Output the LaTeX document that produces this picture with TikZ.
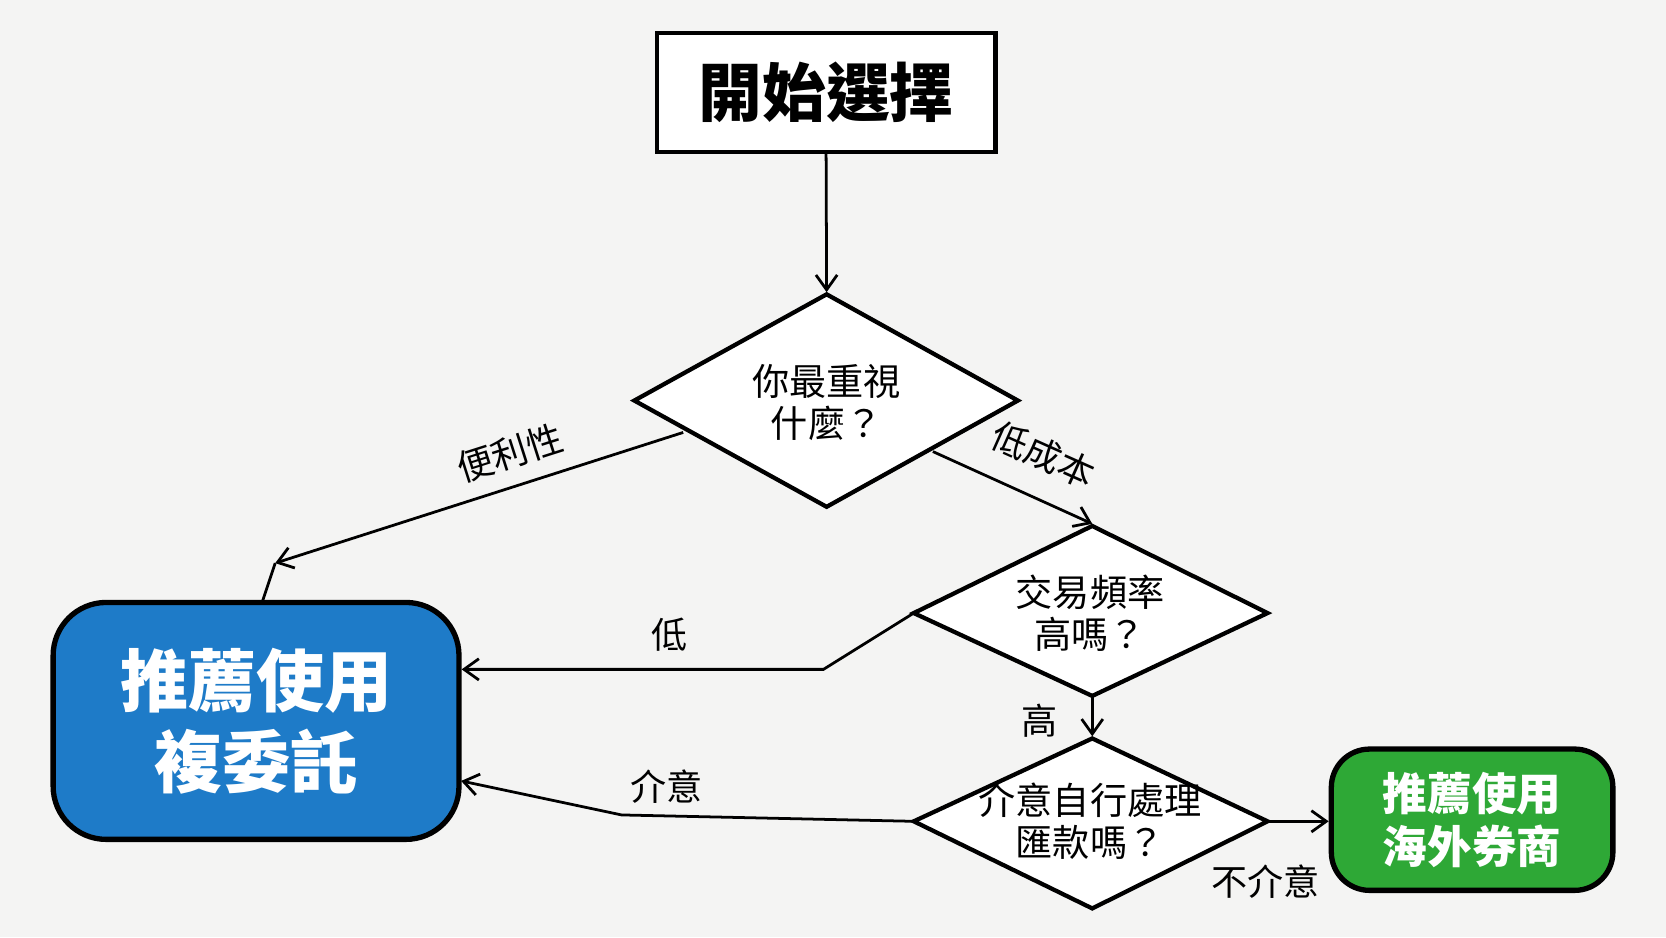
\documentclass[tikz,border=0pt]{standalone}
\usepackage{fontspec}
\setmainfont{Noto Sans CJK TC}
\usetikzlibrary{arrows.meta}
\definecolor{bg}{HTML}{F4F4F3}
\definecolor{bluebox}{HTML}{1E7BC8}
\definecolor{greenbox}{HTML}{2EA836}
\begin{document}
\begin{tikzpicture}[x=0.5pt,y=-0.5pt,
  edge/.style={line width=1.3pt,-{Straight Barb[length=7pt,width=10pt]}},
  plain/.style={line width=1.3pt},
  shp/.style={draw,line width=2pt},
  lbl/.style={font=\fontsize{17}{19}\selectfont},
  dtext/.style={font=\fontsize{17.5}{20}\selectfont,align=center}]
\fill[bg] (0,0) rectangle (1568,882);
\useasboundingbox (0,0) rectangle (1568,882);
% start
\node[shp,fill=white,minimum width=159.5pt,minimum height=56pt,font=\fontsize{30}{32}\selectfont\bfseries] (start) at (777.5,87) {開始選擇};
% diamonds
\draw[shp,fill=white] (778,277) -- (958,377) -- (778,477) -- (597,377) -- cycle;
\node[dtext] (d1) at (778,379) {你最重視\\什麼？};
\draw[shp,fill=white] (1028,495) -- (1193,577) -- (1028,655) -- (860,577) -- cycle;
\node[dtext] (d2) at (1026,577) {交易頻率\\高嗎？};
\draw[shp,fill=white] (1028,695) -- (1193,773) -- (1028,855) -- (860,773) -- cycle;
\node[dtext] (d3) at (1026,773) {介意自行處理\\匯款嗎？};
\coordinate (d1t) at (778,275);
\coordinate (d1l) at (643,407);
\coordinate (d1r) at (878,425);
\coordinate (d2t) at (1028,493);
\coordinate (d2l) at (860,577);
\coordinate (d2b) at (1028,655);
\coordinate (d3t) at (1028,693);
\coordinate (d3l) at (860,773);
\coordinate (d3r) at (1193,773);
% result boxes
\node[shp,line width=2.5pt,fill=bluebox,rounded corners=25pt,minimum width=191pt,minimum height=111.5pt,text=white,align=center,font=\fontsize{32}{38}\selectfont\bfseries] (blue) at (241,678.5) {推薦使用\\複委託};
\node[shp,line width=2.5pt,fill=greenbox,rounded corners=18pt,minimum width=132.5pt,minimum height=66.5pt,text=white,align=center,font=\fontsize{21}{25}\selectfont\bfseries] (green) at (1385.5,771.5) {推薦使用\\海外券商};
% edges
\draw[edge] (start.south) -- (d1t);
\coordinate (bk) at (259,530);
\draw[edge] (d1l) -- (bk);
\draw[plain] (bk) -- (247,566);
\node[lbl,rotate=17.7] (l1) at (480,426) {便利性};
\draw[edge] (d1r) -- (d2t);
\node[lbl,rotate=-24] (l2) at (982,428) {低成本};
\coordinate (k2) at (775,630);
\draw[edge] (d2l) -- (k2) -- (blue.east|-k2);
\node[lbl] (l3) at (630,597) {低};
\draw[edge] (d2b) -- (d3t);
\node[lbl] (l4) at (978,678) {高};
\coordinate (k3) at (585,767);
\draw[edge] (d3l) -- (k3) -- (434,735);
\node[lbl] (l5) at (627,740) {介意};
\draw[edge] (d3r) -- (green.west|-d3r);
\node[lbl] (l6) at (1191,830) {不介意};
\end{tikzpicture}
\end{document}
